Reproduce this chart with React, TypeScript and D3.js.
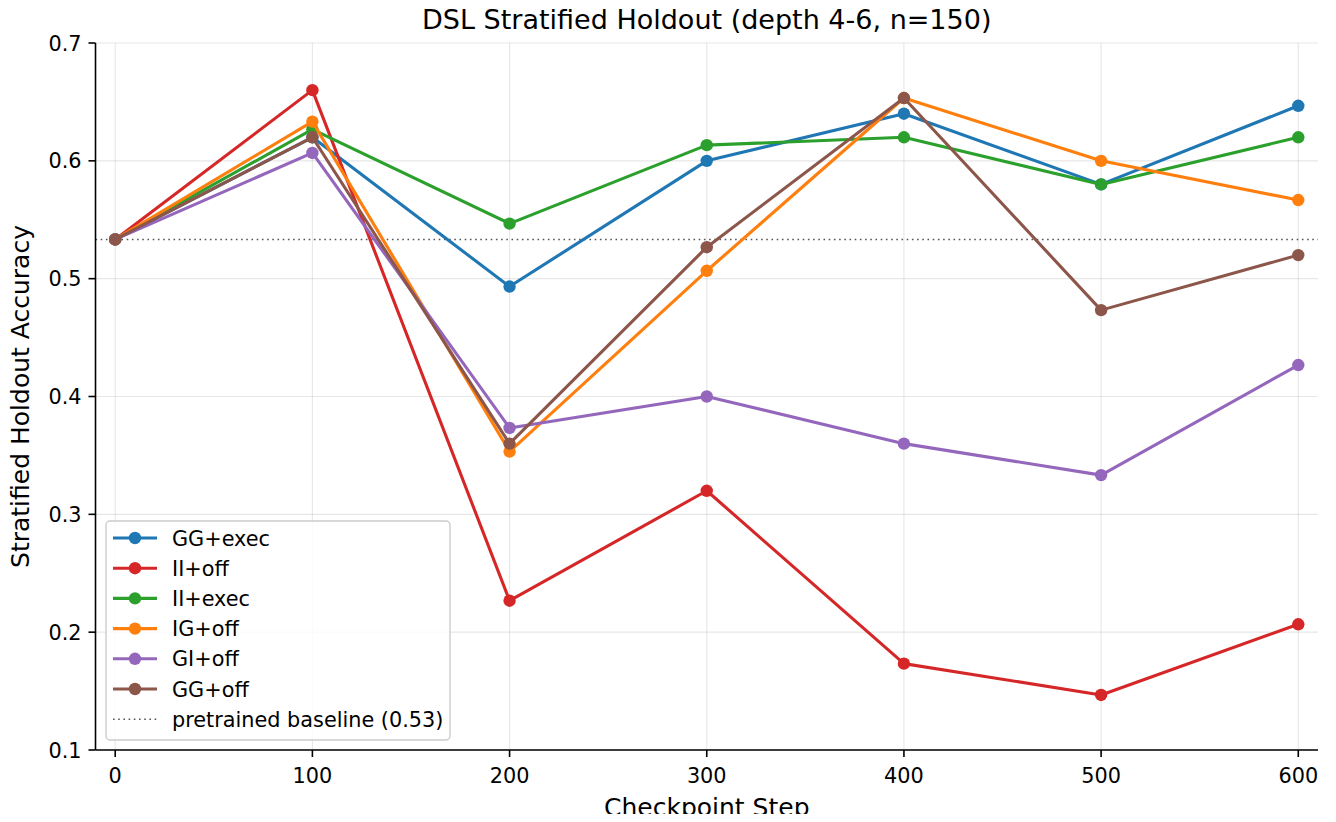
import React from "react";
import * as d3 from "d3";

const steps = [0, 100, 200, 300, 400, 500, 600];
const seriesNames = ["GG+exec", "II+off", "II+exec", "IG+off", "GI+off", "GG+off"];
const seriesColors = ["#1f77b4", "#d62728", "#2ca02c", "#ff7f0e", "#9467bd", "#8c564b"];
const ggExec = [0.5333, 0.62, 0.4933, 0.6, 0.64, 0.58, 0.6467];
const iiOff = [0.5333, 0.66, 0.2267, 0.32, 0.1733, 0.1467, 0.2067];
const iiExec = [0.5333, 0.6267, 0.5467, 0.6133, 0.62, 0.58, 0.62];
const igOff = [0.5333, 0.6333, 0.3533, 0.5067, 0.6533, 0.6, 0.5667];
const giOff = [0.5333, 0.6067, 0.3733, 0.4, 0.36, 0.3333, 0.4267];
const ggOff = [0.5333, 0.62, 0.36, 0.5267, 0.6533, 0.4733, 0.52];
const seriesValues = [ggExec, iiOff, iiExec, igOff, giOff, ggOff];
const baseline = 0.5333;
const xTicks = [0, 100, 200, 300, 400, 500, 600];
const yTicks = [0.1, 0.2, 0.3, 0.4, 0.5, 0.6, 0.7];

export default function App() {
  const W = 1336, H = 822;
  const left = 95.5, right = 1318, top = 43, bottom = 750;
  const x = d3.scaleLinear().domain([-10, 610]).range([left, right]);
  const y = d3.scaleLinear().domain([0.1, 0.7]).range([bottom, top]);
  const line = d3.line<number>().x((_, i) => x(steps[i])).y((d) => y(d));
  const font = "'DejaVu Sans', sans-serif";
  const legX = 106, legY = 521, legW = 344, legH = 219;
  const rowH = 30.2;
  const fs = 20.8;
  return (
    <div style={{ margin: -8 }}>
      <svg width={W} height={H} style={{ display: "block", fontFamily: font }}>
        <rect width={W} height={H} fill="#fff" />
        {xTicks.map((t) => (
          <line key={"gx" + t} x1={x(t)} x2={x(t)} y1={top} y2={bottom} stroke="#b0b0b0" strokeOpacity={0.3} strokeWidth={1.1} />
        ))}
        {yTicks.map((t) => (
          <line key={"gy" + t} x1={left} x2={right} y1={y(t)} y2={y(t)} stroke="#b0b0b0" strokeOpacity={0.3} strokeWidth={1.1} />
        ))}
        <line x1={left} x2={right} y1={y(baseline)} y2={y(baseline)} stroke="#555" strokeWidth={1.6} strokeDasharray="1.6,3.6" />
        {seriesValues.map((vals, si) => (
          <g key={seriesNames[si]}>
            <path d={line(vals) || ""} fill="none" stroke={seriesColors[si]} strokeWidth={3.1} strokeLinejoin="round" />
            {vals.map((v, i) => (
              <circle key={i} cx={x(steps[i])} cy={y(v)} r={6.2} fill={seriesColors[si]} />
            ))}
          </g>
        ))}
        <line x1={left} x2={left} y1={top} y2={bottom} stroke="#000" strokeWidth={1.6} />
        <line x1={left} x2={right} y1={bottom} y2={bottom} stroke="#000" strokeWidth={1.6} />
        {xTicks.map((t) => (
          <g key={"xt" + t}>
            <line x1={x(t)} x2={x(t)} y1={bottom} y2={bottom + 7} stroke="#000" strokeWidth={1.6} />
            <text x={x(t)} y={bottom + 33} textAnchor="middle" fontSize={fs} fill="#000">{t}</text>
          </g>
        ))}
        {yTicks.map((t) => (
          <g key={"yt" + t}>
            <line x1={left - 7} x2={left} y1={y(t)} y2={y(t)} stroke="#000" strokeWidth={1.6} />
            <text x={left - 14} y={y(t) + 7.5} textAnchor="end" fontSize={fs} fill="#000">{t.toFixed(1)}</text>
          </g>
        ))}
        <text x={(left + right) / 2} y={29} textAnchor="middle" fontSize={27} fill="#000">DSL Stratified Holdout (depth 4-6, n=150)</text>
        <text x={(left + right) / 2} y={816} textAnchor="middle" fontSize={25} fill="#000">Checkpoint Step</text>
        <text transform={`translate(29,${(top + bottom) / 2}) rotate(-90)`} textAnchor="middle" fontSize={25} fill="#000">Stratified Holdout Accuracy</text>
        <rect x={legX} y={legY} width={legW} height={legH} rx={4} fill="#fff" fillOpacity={0.8} stroke="#ccc" strokeWidth={1.4} />
        {seriesNames.map((n, i) => {
          const cy = legY + 17 + i * rowH;
          return (
            <g key={"lg" + n}>
              <line x1={legX + 7} x2={legX + 51} y1={cy} y2={cy} stroke={seriesColors[i]} strokeWidth={3.1} />
              <circle cx={legX + 29} cy={cy} r={6.2} fill={seriesColors[i]} />
              <text x={legX + 66} y={cy + 7.5} fontSize={fs} fill="#000">{n}</text>
            </g>
          );
        })}
        <line x1={legX + 7} x2={legX + 51} y1={legY + 17 + 6 * rowH} y2={legY + 17 + 6 * rowH} stroke="#555" strokeWidth={1.6} strokeDasharray="1.6,3.6" />
        <text x={legX + 66} y={legY + 17 + 6 * rowH + 7.5} fontSize={fs} fill="#000">pretrained baseline (0.53)</text>
      </svg>
    </div>
  );
}
